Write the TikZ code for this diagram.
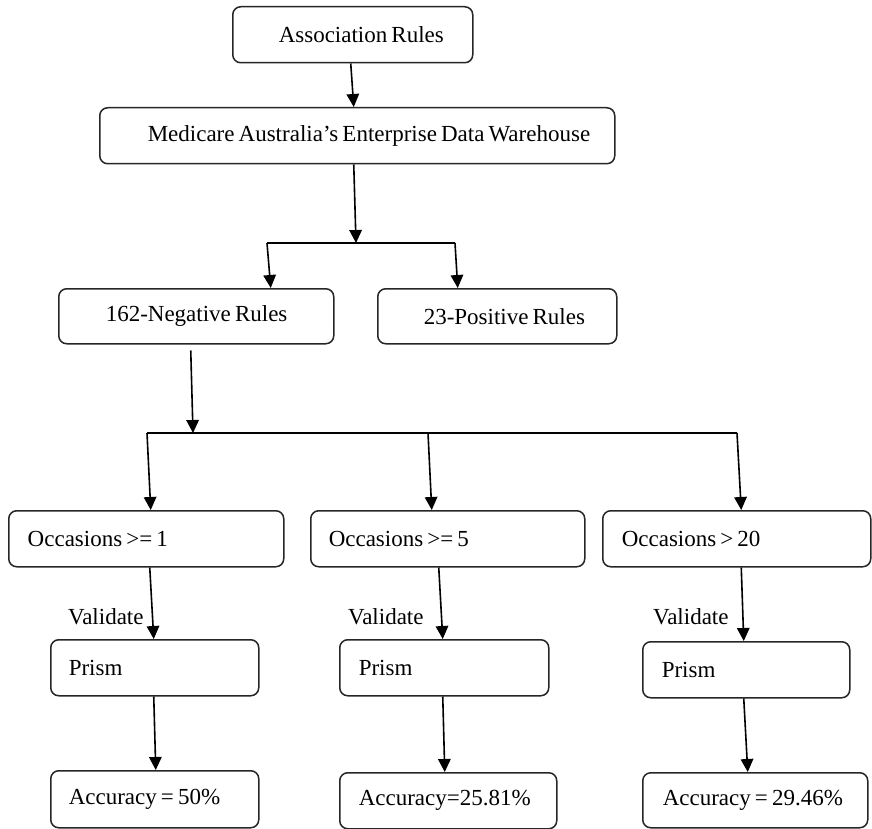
\documentclass[tikz,border=0pt]{standalone}
\usepackage{fontspec}
\setmainfont{Liberation Serif}
\usetikzlibrary{arrows.meta}
\begin{document}
\begin{tikzpicture}[x=1pt,y=-1pt,
  txt/.style={font=\fontsize{23}{27}\selectfont},
  box/.style={txt, draw=black!85, line width=1.5pt, rounded corners=8pt,
    anchor=north west, inner xsep=0pt, inner ysep=0pt, align=left},
  % width, height, left indent of the text; tight word spacing
  bx/.style n args={3}{box, text width=#1pt, minimum height=#2pt,
    execute at begin node={\spaceskip 4.1pt plus 1pt minus 1pt\relax\noindent\hspace*{#3pt}}},
  ln/.style={line width=1.6pt, black},
  arr/.style={ln, -{Triangle[length=13pt,width=12.5pt]}},
  lbl/.style={txt, anchor=west, inner sep=0pt}
]
\useasboundingbox (0,0) rectangle (872,829);

% boxes
\node[bx={240}{56}{46}] (assoc) at (232,6)   {Association Rules};
\node[bx={515}{56}{48}] (med)   at (99,107)  {Medicare Australia’s Enterprise Data Warehouse};
\node[bx={275}{55}{47}] (neg)   at (58,288)  {162-Negative Rules};
\node[bx={239}{55}{46}] (pos)   at (377,288) {23-Positive Rules};
\node[bx={275}{56}{19}] (occ1)  at (8,510)   {Occasions >= 1};
\node[bx={274}{56}{18}] (occ2)  at (310,510) {Occasions >= 5};
\node[bx={268}{56}{19}] (occ3)  at (602,510) {Occasions > 20};
\node[bx={208}{56}{18}] (pr1)   at (50,639)  {Prism};
\node[bx={209}{56}{19}] (pr2)   at (339,639) {Prism};
\node[bx={207}{56}{19}] (pr3)   at (642,641) {Prism};
\node[bx={208}{57}{18}] (acc1)  at (50,770)  {Accuracy = 50\%};
\node[bx={217}{56}{19}] (acc2)  at (339,772) {Accuracy=25.81\%};
\node[bx={225}{55}{20}] (acc3)  at (642,772) {Accuracy = 29.46\%};

% branch points
\coordinate (j1)  at (356,243);
\coordinate (b1l) at (267,243);
\coordinate (b1r) at (455,243);
\coordinate (j2)  at (193,433);
\coordinate (b2l) at (147,433);
\coordinate (b2m) at (428,433);
\coordinate (b2r) at (737,433);

% upper part
\draw[arr] ([xshift=-2pt]assoc.south) -- ([xshift=-3.5pt]med.north);
\draw[arr] ([xshift=-3.5pt]med.south) -- (j1);
\draw[ln]  (b1l) -- (b1r);
\draw[arr] (b1l) -- ([xshift=74.5pt]neg.north);
\draw[arr] (b1r) -- ([xshift=-39.5pt]pos.north);

% lower part
\draw[arr] ([xshift=-5.5pt,yshift=-6pt]neg.south) -- (j2);
\draw[ln]  (b2l) -- (b2r);
\draw[arr] (b2l) -- ([xshift=4.5pt]occ1.north);
\draw[arr] (b2m) -- ([xshift=-16pt]occ2.north);
\draw[arr] (b2r) -- ([xshift=4.5pt]occ3.north);

\draw[arr] ([xshift=3.5pt]occ1.south) -- ([xshift=-1pt]pr1.north);
\draw[arr] ([xshift=-9pt]occ2.south)  -- ([xshift=-1.5pt]pr2.north);
\draw[arr] ([xshift=4.5pt]occ3.south) -- ([xshift=-2.5pt]pr3.north);

\node[lbl] (val1) at (68,617)  {Validate};
\node[lbl] (val2) at (348,617) {Validate};
\node[lbl] (val3) at (653,617) {Validate};

\draw[arr] ([xshift=-1pt]pr1.south)   -- ([xshift=1pt]acc1.north);
\draw[arr] ([xshift=-1.5pt]pr2.south) -- ([xshift=-3.5pt]acc2.north);
\draw[arr] ([xshift=-2.5pt]pr3.south) -- ([xshift=-7.5pt]acc3.north);
\end{tikzpicture}
\end{document}
